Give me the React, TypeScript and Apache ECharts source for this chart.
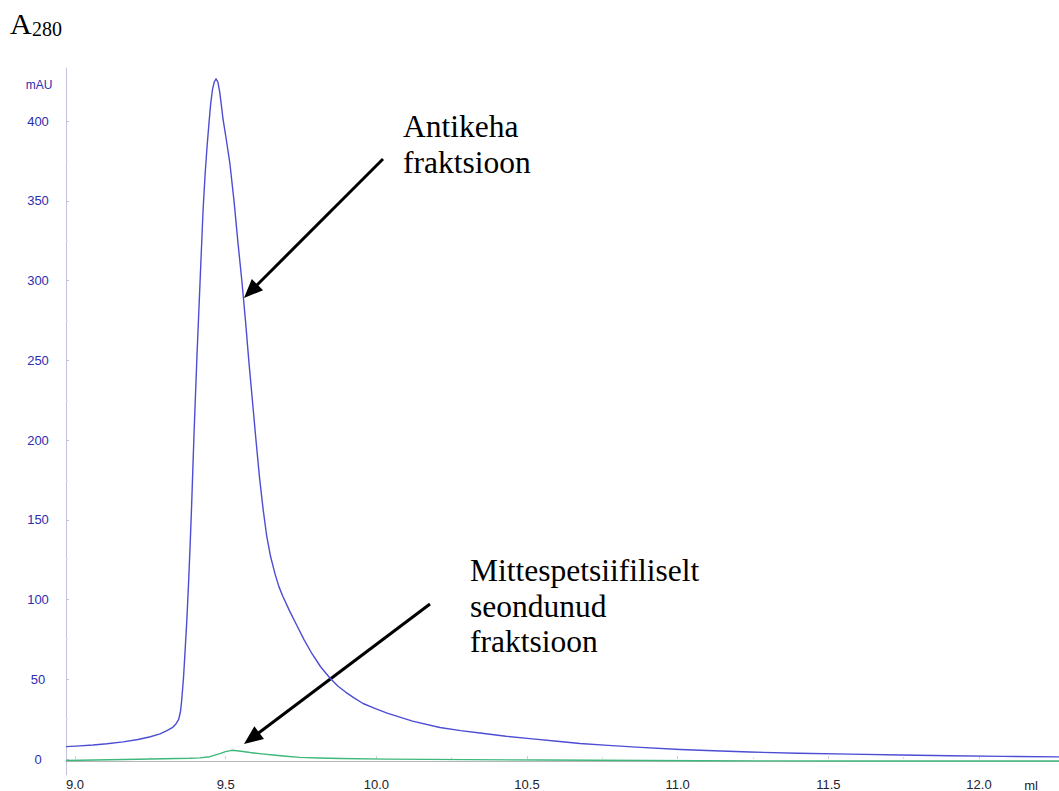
import React, { useEffect, useRef } from "react";
import * as echarts from "echarts";

// Elution volume (ml) and absorbance (mAU)
const blueX = [8.97, 9.003, 9.06, 9.106, 9.16, 9.209, 9.25, 9.282, 9.305, 9.324, 9.336, 9.344, 9.35, 9.354, 9.36, 9.365, 9.371, 9.377, 9.382, 9.387, 9.395, 9.405, 9.415, 9.425, 9.432, 9.438, 9.444, 9.45, 9.456, 9.462, 9.468, 9.474, 9.48, 9.486, 9.491, 9.502, 9.514, 9.528, 9.541, 9.554, 9.566, 9.577, 9.589, 9.601, 9.612, 9.624, 9.636, 9.649, 9.664, 9.677, 9.69, 9.712, 9.736, 9.76, 9.787, 9.815, 9.846, 9.872, 9.899, 9.926, 9.956, 9.995, 10.036, 10.12, 10.211, 10.28, 10.344, 10.43, 10.51, 10.6, 10.676, 10.77, 10.862, 11.008, 11.12, 11.24, 11.4, 11.572, 11.74, 11.904, 12.08, 12.266];
const blueY = [9, 9.3, 10, 10.8, 12, 13.5, 15.2, 17, 19, 21, 23.5, 26, 31, 38, 52, 68, 88, 112, 135, 160, 205, 255, 300, 345, 368, 384, 398, 411, 420, 425, 427, 425, 419, 410, 402, 389, 374, 350, 324, 300, 275, 250, 225, 200, 178, 158, 141, 128, 117, 109, 103, 94, 85, 76, 67, 59, 52, 47, 43, 39.5, 36, 33, 30, 25, 21, 19, 17.5, 15.5, 14, 12.4, 11, 9.8, 8.7, 7.2, 6.4, 5.6, 4.9, 4.3, 3.8, 3.3, 2.9, 2.6];

const greenX = [8.97, 9.209, 9.38, 9.415, 9.448, 9.478, 9.5, 9.52, 9.545, 9.581, 9.62, 9.657, 9.7, 9.747, 9.81, 9.88, 10.036, 10.3, 10.553, 11.071, 11.589, 12.266];
const greenY = [0.3, 1.1, 1.7, 2.0, 2.7, 4.5, 5.9, 6.7, 6.3, 5.3, 4.5, 3.8, 3.0, 2.3, 1.9, 1.6, 1.2, 0.9, 0.6, 0.2, 0, 0];

const yTickRange = [0, 400];
const xTickRange = [9.0, 12.0];

const titleMain = "A";
const titleSub = "280";
const yUnit = "mAU";
const xUnit = "ml";
const note1 = "Antikeha\nfraktsioon";
const note2 = "Mittespetsiifiliselt\nseondunud\nfraktsioon";

function arrow(x1: number, y1: number, x2: number, y2: number) {
  const dx = x2 - x1;
  const dy = y2 - y1;
  const len = Math.sqrt(dx * dx + dy * dy);
  const ux = dx / len;
  const uy = dy / len;
  const L = 19;
  const W = 8;
  const bx = x2 - ux * L;
  const by = y2 - uy * L;
  const nx = -uy;
  const ny = ux;
  return [
    {
      type: "line",
      shape: { x1, y1, x2: bx + ux * 2, y2: by + uy * 2 },
      style: { stroke: "#000", lineWidth: 3 },
    },
    {
      type: "polygon",
      shape: {
        points: [
          [x2, y2],
          [bx + nx * W, by + ny * W],
          [bx - nx * W, by - ny * W],
        ],
      },
      style: { fill: "#000" },
    },
  ];
}

export default function App() {
  const ref = useRef<HTMLDivElement>(null);
  useEffect(() => {
    if (!ref.current) return;
    const chart = echarts.init(ref.current, null, { renderer: "svg" });
    const serif = "'Liberation Serif', 'Times New Roman', serif";
    const sans = "Arial, 'Liberation Sans', sans-serif";
    chart.setOption({
      animation: false,
      backgroundColor: "#fff",
      grid: [
        { left: 66, right: 0, top: 68, bottom: 16 },
        { left: 75, right: 80, top: 121, bottom: 30 },
      ],
      xAxis: [
        {
          gridIndex: 0,
          type: "value",
          min: 8.97,
          max: 12.266,
          axisLine: { show: true, lineStyle: { color: "#b5b5b5", width: 1 } },
          axisTick: { show: false },
          axisLabel: { show: false },
          splitLine: { show: false },
        },
        {
          gridIndex: 1,
          type: "value",
          min: xTickRange[0],
          max: xTickRange[1],
          interval: 0.5,
          position: "bottom",
          offset: 14,
          axisLine: { show: false },
          axisTick: { show: true, inside: true, length: 3, lineStyle: { color: "#cfcfcf" } },
          minorTick: { show: true, splitNumber: 2, length: 2, lineStyle: { color: "#dddddd" } },
          axisLabel: {
            show: true,
            margin: 5,
            fontSize: 13,
            fontFamily: sans,
            color: "#22222e",
            formatter: (v: number) => v.toFixed(1),
          },
          splitLine: { show: false },
        },
      ],
      yAxis: [
        {
          gridIndex: 0,
          type: "value",
          min: -8.75,
          max: 433.75,
          axisLine: { show: true, lineStyle: { color: "#c2c2de", width: 1 } },
          axisTick: { show: false },
          axisLabel: { show: false },
          splitLine: { show: false },
        },
        {
          gridIndex: 1,
          type: "value",
          min: yTickRange[0],
          max: yTickRange[1],
          interval: 50,
          position: "left",
          offset: 9,
          axisLine: { show: false },
          axisTick: { show: true, inside: true, length: 3, lineStyle: { color: "#c2c2de" } },
          minorTick: { show: true, splitNumber: 2, length: 2, lineStyle: { color: "#dadaea" } },
          axisLabel: {
            show: true,
            margin: 28,
            align: "center",
            fontSize: 13,
            fontFamily: sans,
            color: "#2c2cb0",
          },
          splitLine: { show: false },
        },
      ],
      series: [
        {
          type: "line",
          xAxisIndex: 0,
          yAxisIndex: 0,
          data: blueX.map((x, i) => [x, blueY[i]]),
          showSymbol: false,
          smooth: false,
          lineStyle: { color: "#4d4dd4", width: 1.4, join: "round" },
          z: 3,
        },
        {
          type: "line",
          xAxisIndex: 0,
          yAxisIndex: 0,
          data: greenX.map((x, i) => [x, greenY[i]]),
          showSymbol: false,
          smooth: false,
          lineStyle: { color: "#3fb87c", width: 1.4, join: "round" },
          z: 2,
        },
      ],
      graphic: [
        {
          type: "text",
          left: 10,
          top: 8,
          style: { text: titleMain, font: `30px ${serif}`, fill: "#000" },
        },
        {
          type: "text",
          left: 32,
          top: 19,
          style: { text: titleSub, font: `20px ${serif}`, fill: "#000" },
        },
        {
          type: "text",
          x: 39,
          y: 85,
          style: {
            text: yUnit,
            font: `12px ${sans}`,
            fill: "#2c2cb0",
            align: "center",
            verticalAlign: "middle",
          },
        },
        {
          type: "text",
          x: 1031,
          y: 785,
          style: {
            text: xUnit,
            font: `13px ${sans}`,
            fill: "#22222e",
            align: "center",
            verticalAlign: "middle",
          },
        },
        {
          type: "text",
          x: 403,
          y: 108,
          style: {
            text: note1,
            font: `31.5px ${serif}`,
            lineHeight: 36,
            fill: "#000",
            align: "left",
            verticalAlign: "top",
          },
        },
        {
          type: "text",
          x: 470,
          y: 553,
          style: {
            text: note2,
            font: `31.5px ${serif}`,
            lineHeight: 35.5,
            fill: "#000",
            align: "left",
            verticalAlign: "top",
          },
        },
        ...arrow(383, 159, 244, 298),
        ...arrow(430, 604, 244, 744),
      ],
    });
    return () => chart.dispose();
  }, []);
  return (
    <div
      ref={ref}
      style={{ position: "absolute", left: 0, top: 0, width: 1059, height: 791 }}
    />
  );
}
